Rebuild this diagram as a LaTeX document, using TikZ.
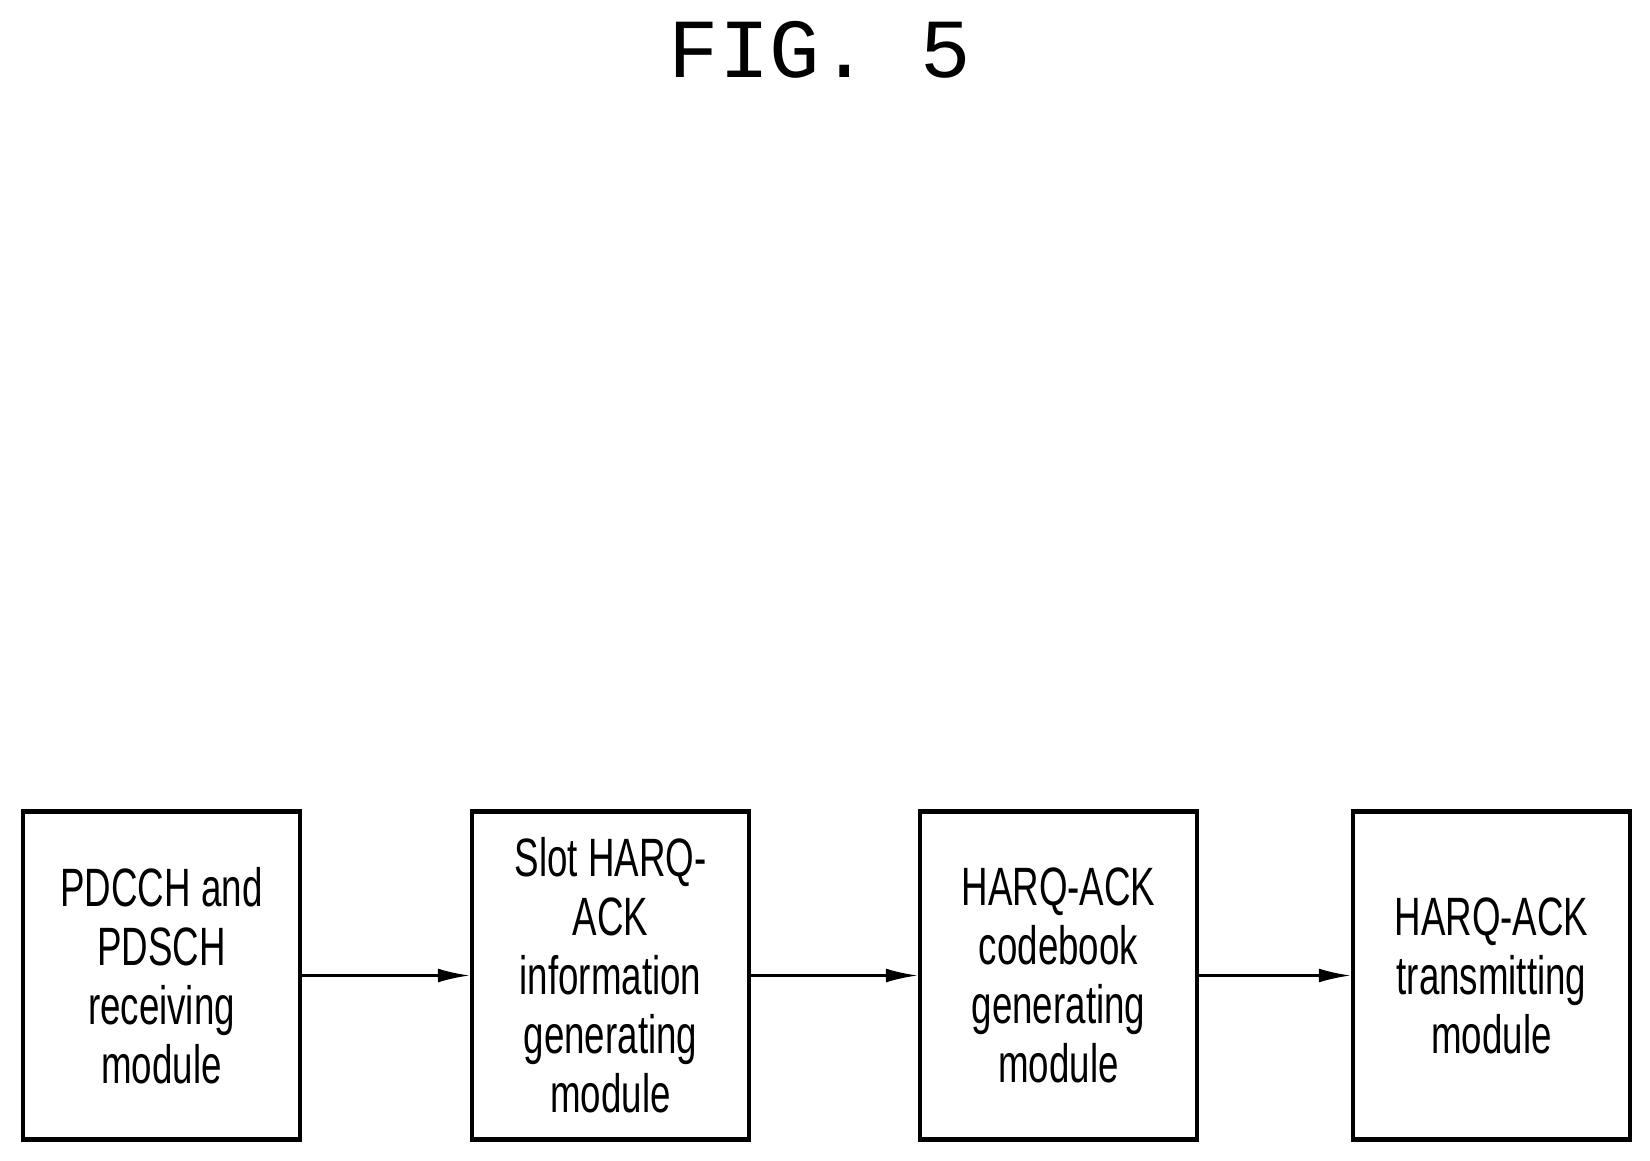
\documentclass[tikz,border=0pt]{standalone}
\usepackage{fontspec}
\newfontfamily\cond[FakeStretch=0.68]{Liberation Sans}
\newfontfamily\mono{Liberation Mono}
\begin{document}
\begin{tikzpicture}[x=0.5pt,y=-0.5pt,
 box/.style={draw,line width=2.2pt,minimum width=138.5pt,minimum height=164pt,inner sep=0,align=center,font=\cond\fontsize{27}{29.5}\selectfont},
 arr/.style={line width=1.3pt,-{Latex[length=16pt,width=7pt]}}]
\usetikzlibrary{arrows.meta}
\useasboundingbox (0,0) rectangle (1650,1161);
\node[font=\mono\fontsize{42}{42}\selectfont] (t) at (820,50) {FIG. 5};
\node[box] (a) at (161.5,975.5) {PDCCH and\\PDSCH\\receiving\\module};
\node[box] (b) at (610.5,975.5) {Slot HARQ-\\ACK\\information\\generating\\module};
\node[box] (c) at (1058.5,975.5) {HARQ-ACK\\codebook\\generating\\module};
\node[box] (d) at (1491.5,975.5) {HARQ-ACK\\transmitting\\module};
\draw[arr] (a) -- (b);
\draw[arr] (b) -- (c);
\draw[arr] (c) -- (d);
\end{tikzpicture}
\end{document}
